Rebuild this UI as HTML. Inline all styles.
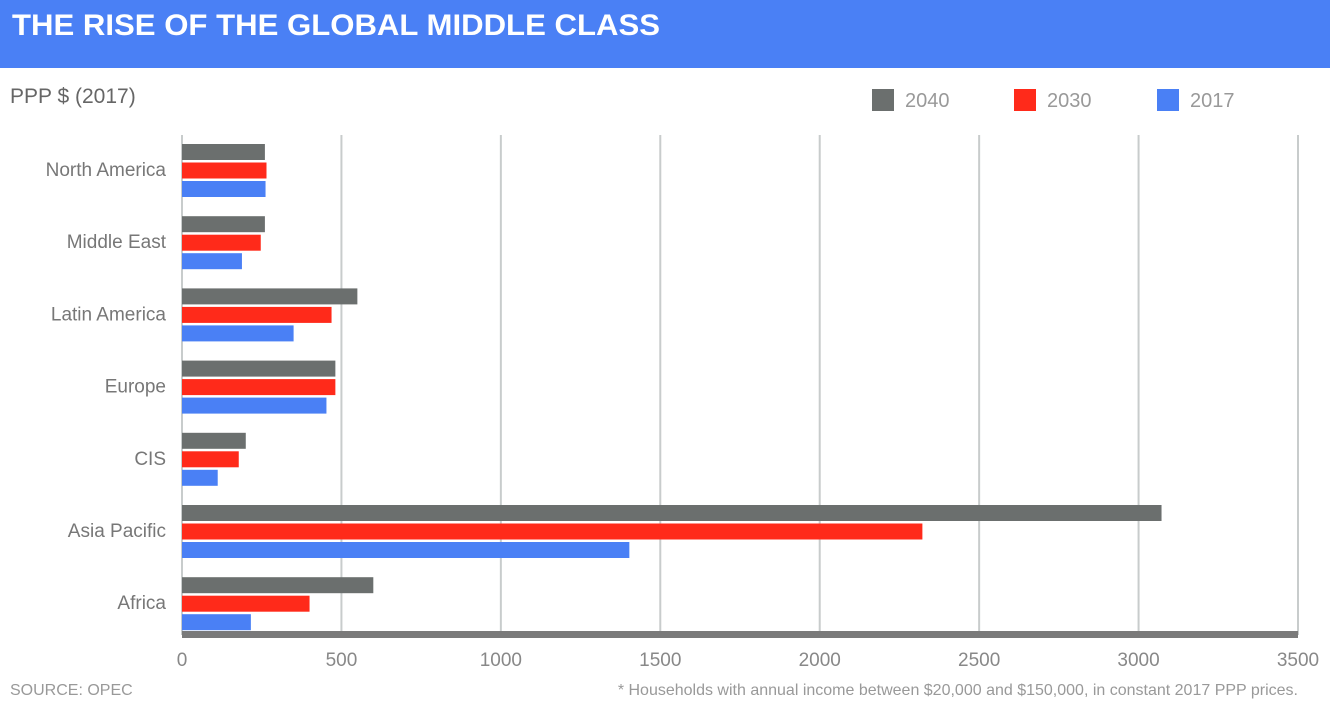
<!DOCTYPE html>
<html><head><meta charset="utf-8"><style>
body{margin:0;background:#fff;width:1330px;height:709px;overflow:hidden;font-family:"Liberation Sans",sans-serif}
</style></head><body>
<svg width="1330" height="709" xmlns="http://www.w3.org/2000/svg">
<rect x="0" y="0" width="1330" height="68" fill="#4a80f5"/>
<text x="12" y="35" font-size="30" font-weight="bold" fill="#fff" textLength="648" lengthAdjust="spacingAndGlyphs" font-family="Liberation Sans">THE RISE OF THE GLOBAL MIDDLE CLASS</text>
<text x="10" y="103" font-size="21" fill="#666">PPP $ (2017)</text>
<g id="legend"></g>
<g id="grid"></g><g id="bars"></g><g id="labels"></g>
<text x="10" y="695" font-size="16" fill="#999">SOURCE: OPEC</text>
<text x="1298" y="695" font-size="16" fill="#999" text-anchor="end">* Households with annual income between $20,000 and $150,000, in constant 2017 PPP prices.</text>
</svg>
<script>
const categories=["North America","Middle East","Latin America","Europe","CIS","Asia Pacific","Africa"];
const series=["2040","2030","2017"];
const v2040=[260,260,550,481,200,3072,600];
const v2030=[265,247,469,481,178,2322,400];
const v2017=[262,188,350,453,112,1403,216];
const ticks=[0,500,1000,1500,2000,2500,3000,3500];
const colors=["#6b6f6e","#ff2a1a","#4a80f5"];
const NS="http://www.w3.org/2000/svg";
const x0=182,x1=1298,xmax=3500;
const xs=v=>x0+(x1-x0)*v/xmax;
function mk(t,a,p){const e=document.createElementNS(NS,t);for(const k in a)e.setAttribute(k,a[k]);p.appendChild(e);return e;}
const grid=document.getElementById('grid'),bars=document.getElementById('bars'),labels=document.getElementById('labels'),legend=document.getElementById('legend');
ticks.forEach(t=>{
 const l=mk('line',{x1:xs(t),x2:xs(t),y1:135,y2:635,stroke:'#c8cccc','stroke-width':2},grid);
 
 
 const tx=mk('text',{x:xs(t),y:666,'font-size':19,fill:'#888','text-anchor':'middle'},labels);
 tx.textContent=t;
 
 
});
const ax=mk('rect',{x:x0,y:631,width:x1-x0,height:7,fill:'#7a7a7a'},grid);


const vals=[v2040,v2030,v2017];
categories.forEach((c,i)=>{
 const gy=144+i*72.2;
 vals.forEach((arr,j)=>{
  const r=mk('rect',{x:x0,y:gy+j*18.5,width:xs(arr[i])-x0,height:16,fill:colors[j]},bars);
  
  
 });
 const t=mk('text',{x:166,y:gy+32,'font-size':19,fill:'#777','text-anchor':'end'},labels);
 t.textContent=c;
 
 
});
const lx=[872,1014,1157];
series.forEach((s,j)=>{
 const r=mk('rect',{x:lx[j],y:89,width:22,height:22,fill:colors[j]},legend);
 
 
 const t=mk('text',{x:lx[j]+33,y:107,'font-size':20,fill:'#999'},legend);
 t.textContent=s;
 
 
});
</script>
</body></html>
